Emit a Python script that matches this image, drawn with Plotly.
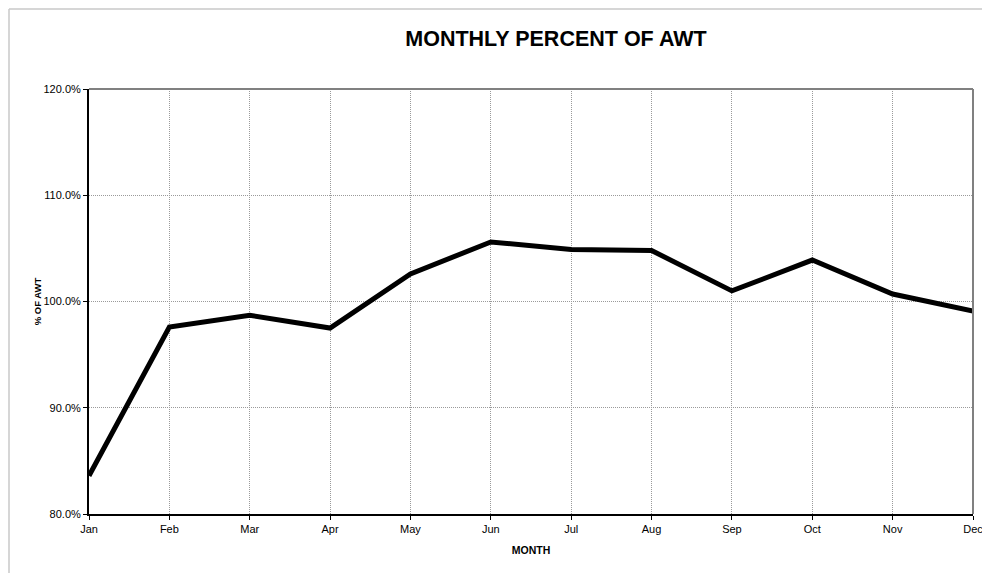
import plotly.graph_objects as go

months = ["Jan", "Feb", "Mar", "Apr", "May", "Jun", "Jul", "Aug", "Sep", "Oct", "Nov", "Dec"]
pct_awt = [83.6, 97.6, 98.7, 97.5, 102.6, 105.6, 104.9, 104.8, 101.0, 103.9, 100.7, 99.1]
y_ticks = [80, 90, 100, 110, 120]
y_tick_labels = ["80.0%", "90.0%", "100.0%", "110.0%", "120.0%"]

fig = go.Figure()
fig.add_trace(go.Scatter(
    x=list(range(len(months))), y=pct_awt, mode="lines",
    line=dict(color="black", width=5), hoverinfo="skip", showlegend=False,
))

W, H = 978, 565
L, R, T, B = 81, 13, 81, 59
pw, ph = W - L - R, H - T - B

font_family = "Liberation Sans, Arial, sans-serif"
fig.update_layout(
    width=W, height=H,
    margin=dict(l=L, r=R, t=T, b=B),
    paper_bgcolor="white", plot_bgcolor="white",
    title=dict(text="<b>MONTHLY PERCENT OF AWT</b>", x=(556 - 8) / W, xanchor="center",
               y=1 - 30 / H, yanchor="middle",
               font=dict(family=font_family, size=21.5, color="black")),
    font=dict(family=font_family, size=11, color="black"),
    xaxis=dict(
        range=[0, len(months) - 1], tickmode="array",
        tickvals=list(range(len(months))), ticktext=months,
        ticklabeloverflow="allow", automargin=False,
        showgrid=True, gridcolor="#9a9a9a", griddash="1px,1px", gridwidth=1,
        showline=True, linecolor="black", linewidth=2,
        ticks="outside", ticklen=4, tickcolor="black",
        zeroline=False,
        title=dict(text="<b>MONTH</b>", font=dict(size=10.5), standoff=12),
    ),
    yaxis=dict(
        range=[80, 120], tickmode="array", tickvals=y_ticks, ticktext=y_tick_labels,
        automargin=False,
        showgrid=True, gridcolor="#9a9a9a", griddash="1px,1px", gridwidth=1,
        showline=True, linecolor="black", linewidth=2,
        ticks="outside", ticklen=4, tickcolor="black",
        zeroline=False,
        title=dict(text="<b>% OF AWT</b>", font=dict(size=9.5), standoff=0),
    ),
)

# top and right frame of plot area (grey)
fig.add_shape(type="line", xref="paper", yref="paper", x0=0, x1=1, y0=1, y1=1,
              line=dict(color="#808080", width=2))
fig.add_shape(type="line", xref="paper", yref="paper", x0=1, x1=1, y0=0, y1=1,
              line=dict(color="#808080", width=2))
# outer chart border (only left and top visible)
bx = -(L - 1) / pw
by = 1 + (T - 1) / ph
fig.add_shape(type="line", xref="paper", yref="paper",
              x0=bx, x1=bx, y0=-2, y1=by,
              line=dict(color="#c8c8c8", width=1.5))
fig.add_shape(type="line", xref="paper", yref="paper",
              x0=bx, x1=2, y0=by, y1=by,
              line=dict(color="#c8c8c8", width=1.5))

fig.write_html("out.html")
